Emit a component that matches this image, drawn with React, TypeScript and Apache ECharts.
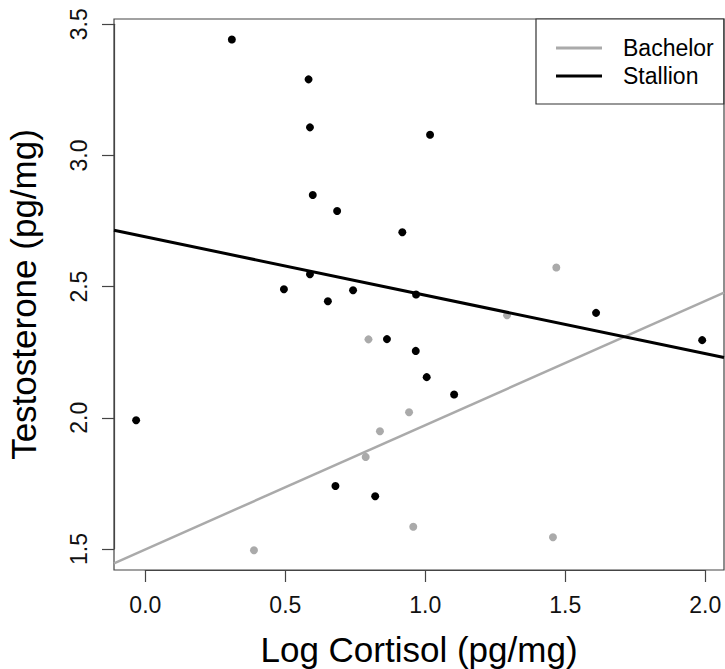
import React, { useEffect, useRef } from "react";
import * as echarts from "echarts";

const groups = ["Bachelor", "Stallion"];
const colors = ["#aaaaaa", "#000000"];

const bachelorX = [0.388, 0.787, 0.797, 0.838, 0.942, 0.957, 1.292, 1.456, 1.468];
const bachelorY = [1.495, 1.851, 2.299, 1.949, 2.021, 1.585, 2.391, 1.545, 2.573];

const stallionX = [-0.033, 0.309, 0.495, 0.583, 0.588, 0.588, 0.598, 0.652, 0.679, 0.685, 0.742, 0.821, 0.863, 0.918, 0.966, 0.967, 1.005, 1.017, 1.103, 1.61, 1.989];
const stallionY = [1.991, 3.442, 2.49, 3.29, 3.107, 2.547, 2.849, 2.444, 1.74, 2.788, 2.486, 1.701, 2.3, 2.707, 2.255, 2.47, 2.155, 3.079, 2.089, 2.4, 2.296];

const fitIntercepts = [1.4985, 2.69];
const fitSlopes = [0.4736, -0.2226];

const xTickRange = [0, 2];
const yTickRange = [1.5, 3.5];
const tickStep = 0.5;
const xRange = [-0.112, 2.067];
const yRange = [1.42, 3.52];

const FONT = "'Liberation Sans', Arial, sans-serif";
const W = 725;
const H = 669;
const G = { left: 114, top: 19, right: 1, bottom: 99 };

export default function App() {
  const ref = useRef<HTMLDivElement>(null);
  useEffect(() => {
    if (!ref.current) return;
    const chart = echarts.init(ref.current, null, { renderer: "svg" });
    const pts = (xs: number[], ys: number[]) => xs.map((x, i) => [x, ys[i]]);
    const fit = (i: number) =>
      [xRange[0], xRange[1]].map((x) => [x, fitIntercepts[i] + fitSlopes[i] * x]);

    const pxX = (W - G.left - G.right) / (xRange[1] - xRange[0]);
    const pxY = (H - G.top - G.bottom) / (yRange[1] - yRange[0]);
    const offX = (xTickRange[0] - xRange[0]) * pxX;
    const offY = (yTickRange[0] - yRange[0]) * pxY;
    const grid2 = {
      left: G.left + offX,
      right: G.right + (xRange[1] - xTickRange[1]) * pxX,
      top: G.top + (yRange[1] - yTickRange[1]) * pxY,
      bottom: G.bottom + offY,
      show: false,
      containLabel: false,
      outerBoundsMode: "none",
    };
    const lineStyle = { color: "#444", width: 1.2 };

    chart.setOption({
      animation: false,
      textStyle: { fontFamily: FONT },
      grid: [
        {
          ...G,
          show: true,
          borderColor: "#444",
          borderWidth: 1.2,
          backgroundColor: "transparent",
          containLabel: false,
          outerBoundsMode: "none",
        },
        grid2,
      ],
      legend: {
        data: groups,
        orient: "vertical",
        left: 536,
        top: 19,
        padding: [15, 10, 14, 20],
        itemGap: 0,
        itemWidth: 46,
        itemHeight: 3,
        icon: "rect",
        borderColor: "#333",
        borderWidth: 1.2,
        backgroundColor: "#fff",
        textStyle: {
          fontSize: 23,
          color: "#000",
          fontFamily: FONT,
          lineHeight: 28,
          padding: [0, 0, 0, 16],
        },
      },
      xAxis: [
        {
          type: "value",
          gridIndex: 0,
          position: "bottom",
          min: xRange[0],
          max: xRange[1],
          name: "Log Cortisol (pg/mg)",
          nameLocation: "middle",
          nameGap: 62,
          nameTextStyle: { fontSize: 35, color: "#000", fontFamily: FONT },
          splitLine: { show: false },
          axisLine: { show: false, onZero: false },
          axisTick: { show: false },
          axisLabel: { show: false },
        },
        {
          type: "value",
          gridIndex: 1,
          position: "bottom",
          offset: offY,
          min: xTickRange[0],
          max: xTickRange[1],
          interval: tickStep,
          splitLine: { show: false },
          axisLine: { show: true, onZero: false, lineStyle },
          axisTick: { show: true, length: 12, lineStyle },
          axisLabel: {
            show: true,
            fontSize: 23,
            color: "#111",
            margin: 23,
            fontFamily: FONT,
            formatter: (v: number) => v.toFixed(1),
          },
        },
      ],
      yAxis: [
        {
          type: "value",
          gridIndex: 0,
          position: "left",
          min: yRange[0],
          max: yRange[1],
          name: "Testosterone (pg/mg)",
          nameLocation: "middle",
          nameGap: 73,
          nameTextStyle: { fontSize: 35, color: "#000", fontFamily: FONT },
          splitLine: { show: false },
          axisLine: { show: false, onZero: false },
          axisTick: { show: false },
          axisLabel: { show: false },
        },
        {
          type: "value",
          gridIndex: 1,
          position: "left",
          offset: offX,
          min: yTickRange[0],
          max: yTickRange[1],
          interval: tickStep,
          splitLine: { show: false },
          axisLine: { show: true, onZero: false, lineStyle },
          axisTick: { show: true, length: 12, lineStyle },
          axisLabel: {
            show: true,
            fontSize: 23,
            color: "#111",
            rotate: 90,
            margin: 24,
            fontFamily: FONT,
            formatter: (v: number) => v.toFixed(1),
          },
        },
      ],
      series: [
        {
          name: "Bachelor points",
          type: "scatter",
          xAxisIndex: 0,
          yAxisIndex: 0,
          data: pts(bachelorX, bachelorY),
          symbolSize: 8,
          itemStyle: { color: colors[0], opacity: 1 },
          z: 2,
        },
        {
          name: "Stallion points",
          type: "scatter",
          xAxisIndex: 0,
          yAxisIndex: 0,
          data: pts(stallionX, stallionY),
          symbolSize: 8,
          itemStyle: { color: colors[1], opacity: 1 },
          z: 3,
        },
        {
          name: groups[0],
          type: "line",
          xAxisIndex: 0,
          yAxisIndex: 0,
          data: fit(0),
          showSymbol: false,
          symbol: "none",
          lineStyle: { color: colors[0], width: 2.5 },
          itemStyle: { color: colors[0] },
          z: 4,
        },
        {
          name: groups[1],
          type: "line",
          xAxisIndex: 0,
          yAxisIndex: 0,
          data: fit(1),
          showSymbol: false,
          symbol: "none",
          lineStyle: { color: colors[1], width: 3 },
          itemStyle: { color: colors[1] },
          z: 5,
        },
      ],
    });
    return () => chart.dispose();
  }, []);
  return (
    <div
      ref={ref}
      style={{ position: "fixed", left: 0, top: 0, width: W, height: H, background: "#fff" }}
    />
  );
}
